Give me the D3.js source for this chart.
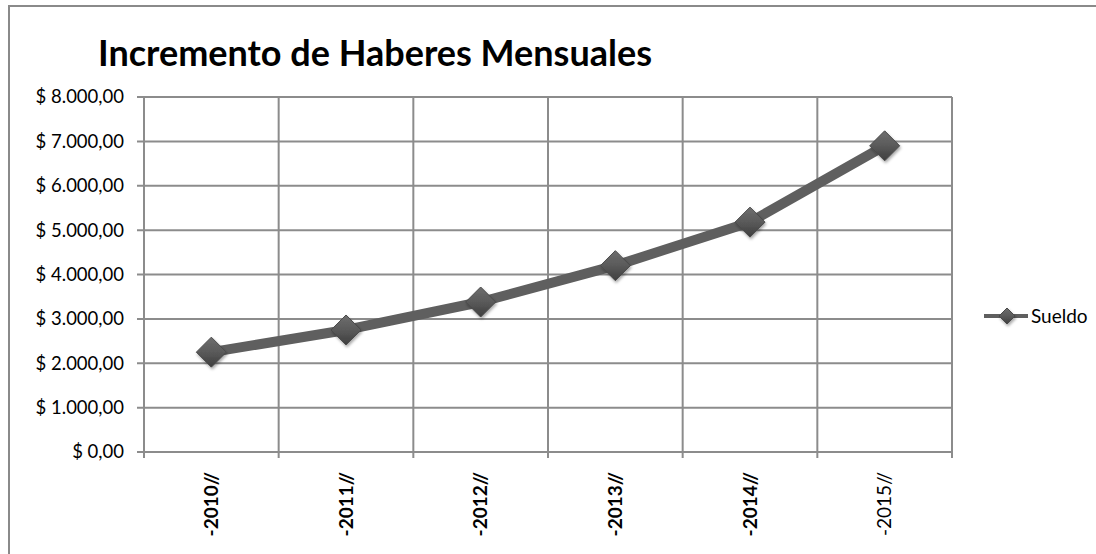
<!DOCTYPE html>
<html>
<head>
<meta charset="utf-8">
<script src="https://cdn.jsdelivr.net/npm/d3@7"></script>
<style>
  body { margin: 0; background: #fff; }
  text { font-family: Lato, "Open Sans", sans-serif; fill: #000; }
</style>
</head>
<body>
<script>
// chart data
var years = ["-2010//", "-2011//", "-2012//", "-2013//", "-2014//", "-2015//"]
var sueldo = [2250, 2750, 3380, 4200, 5180, 6900]
var yTicks = [0, 1000, 2000, 3000, 4000, 5000, 6000, 7000, 8000]
var boldLabel = [true, true, true, true, true, false]

var W = 1096, H = 554
var plot = { left: 144, right: 952, top: 97, bottom: 452 }

var d = d3.select('body')
    .append("svg")
    .attr("width", W)
    .attr("height", H)

var defs = d.append("defs")
var grad = defs.append("linearGradient")
    .attr("id", "mk").attr("x1", 0).attr("y1", 0).attr("x2", 0).attr("y2", 1)
grad.append("stop").attr("offset", "0%").attr("stop-color", "#6e6e6e")
grad.append("stop").attr("offset", "50%").attr("stop-color", "#5a5a5a")
grad.append("stop").attr("offset", "100%").attr("stop-color", "#3e3e3e")
var blur = defs.append("filter").attr("id", "sh")
    .attr("x", "-50%").attr("y", "-50%").attr("width", "200%").attr("height", "200%")
blur.append("feDropShadow").attr("dx", 1).attr("dy", 2).attr("stdDeviation", 1.5)
    .attr("flood-color", "#000").attr("flood-opacity", 0.35)

// outer frame (runs off the right and bottom edge)
d.append("rect")
    .attr("x", 9).attr("y", 6)
    .attr("width", W + 20).attr("height", H + 20)
    .attr("fill", "none").attr("stroke", "#8a8a8a").attr("stroke-width", 2)

d.append("text")
    .attr("x", 98).attr("y", 66)
    .style("font-size", "36px").style("font-weight", "bold")
    .text("Incremento de Haberes Mensuales")

var x = d3.scaleBand().domain(years).range([plot.left, plot.right])
var y = d3.scaleLinear().domain([0, 8000]).range([plot.bottom, plot.top])

var grid = "#8c8c8c"

// horizontal gridlines + tick marks
d.append("g").selectAll("line").data(yTicks).join("line")
    .attr("x1", plot.left - 7).attr("x2", plot.right)
    .attr("y1", function (v) { return y(v) }).attr("y2", function (v) { return y(v) })
    .attr("stroke", grid).attr("stroke-width", 2)

// vertical gridlines at category borders
var borders = years.map(function (c) { return x(c) + x.bandwidth() }).concat([plot.left])
d.append("g").selectAll("line").data(borders).join("line")
    .attr("x1", function (v) { return v }).attr("x2", function (v) { return v })
    .attr("y1", plot.top).attr("y2", plot.bottom + 6)
    .attr("stroke", grid).attr("stroke-width", 2)

// y tick labels
var fmt = d3.formatLocale({ decimal: ",", thousands: ".", grouping: [3], currency: ["$ ", ""] }).format("$,.2f")
d.append("g").selectAll("text").data(yTicks).join("text")
    .attr("x", 124).attr("y", function (v) { return y(v) })
    .attr("dy", "0.35em").attr("text-anchor", "end")
    .style("font-size", "18.5px")
    .text(function (v) { return fmt(v) })

// x labels rotated
d.append("g").selectAll("text").data(years).join("text")
    .attr("transform", function (c) { return "translate(" + (x(c) + x.bandwidth() / 2) + ",472) rotate(-90)" })
    .attr("text-anchor", "end").attr("dy", "0.35em")
    .style("font-size", "19px")
    .style("font-weight", function (c, i) { return boldLabel[i] ? "bold" : "normal" })
    .text(function (c) { return c })

// series line
var pts = years.map(function (c, i) { return [x(c) + x.bandwidth() / 2, y(sueldo[i])] })
d.append("path")
    .attr("d", d3.line()(pts))
    .attr("fill", "none").attr("stroke", "#5f5f5f").attr("stroke-width", 10)
    .attr("stroke-linejoin", "round")

function diamond(g, cx, cy, r) {
    g.append("path")
        .attr("d", "M" + cx + "," + (cy - r) + "L" + (cx + r) + "," + cy + "L" + cx + "," + (cy + r) + "L" + (cx - r) + "," + cy + "Z")
        .attr("fill", "url(#mk)").attr("stroke", "#4a4a4a").attr("stroke-width", 1)
        .attr("filter", "url(#sh)")
}

var mk = d.append("g")
pts.forEach(function (p) { diamond(mk, p[0], p[1], 15) })

// legend
var lg = d.append("g")
lg.append("line").attr("x1", 984).attr("x2", 1028).attr("y1", 316).attr("y2", 316)
    .attr("stroke", "#5f5f5f").attr("stroke-width", 4)
diamond(lg, 1007, 316, 8)
lg.append("text").attr("x", 1031).attr("y", 316).attr("dy", "0.35em")
    .style("font-size", "19px").text("Sueldo")
</script>
</body>
</html>
